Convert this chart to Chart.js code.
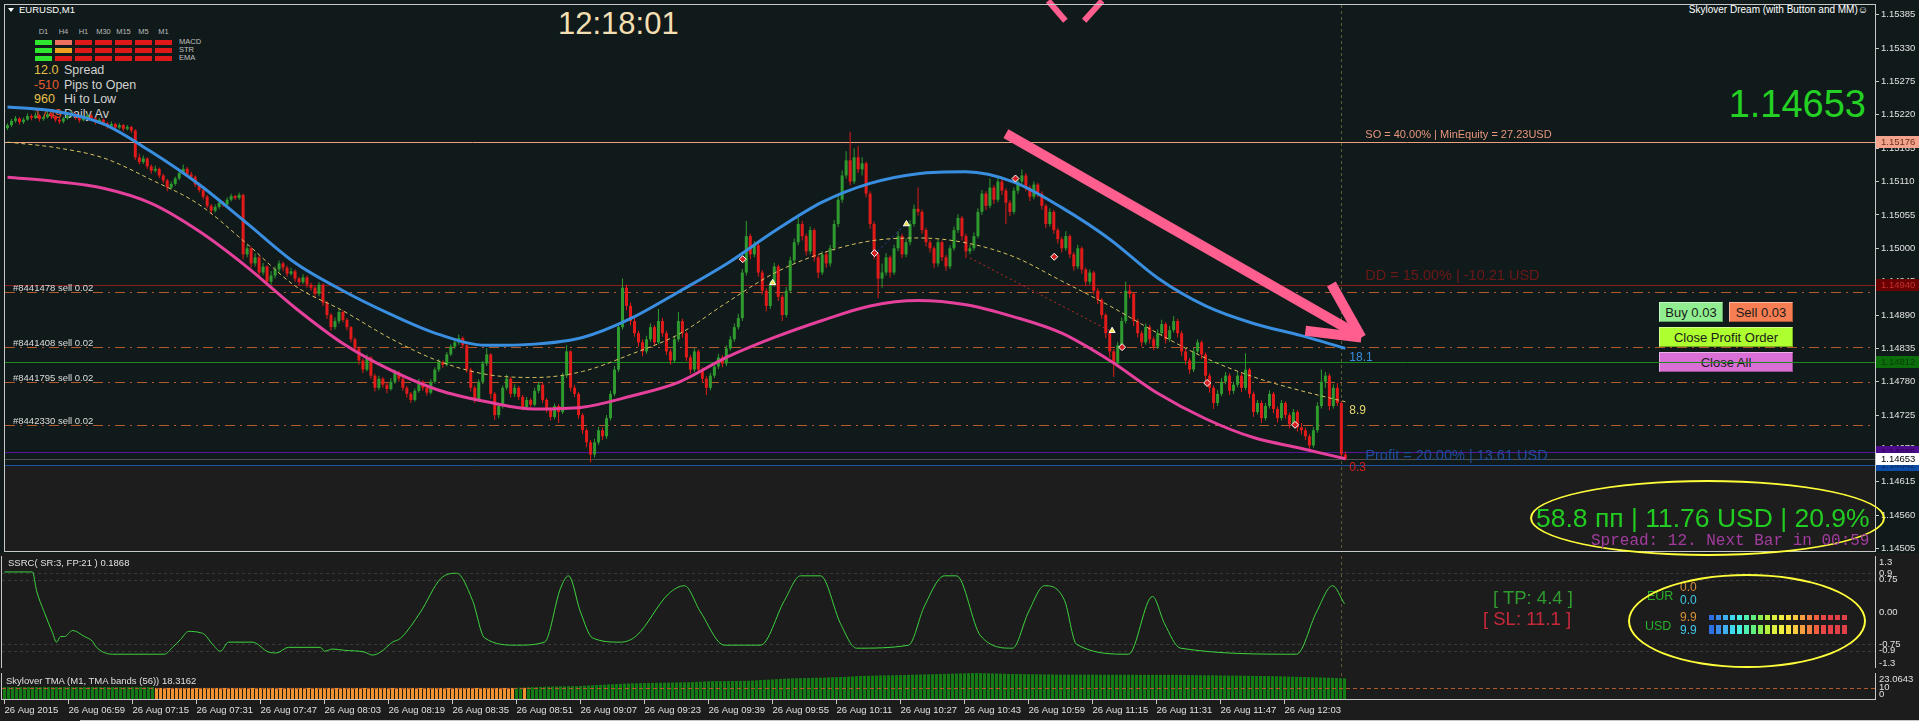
<!DOCTYPE html>
<html lang="en">
<head>
<meta charset="UTF-8">
<title>EURUSD,M1</title>
<script src="https://cdn.jsdelivr.net/npm/chart.js"></script>
<style>
  html, body { margin: 0; padding: 0; }
  body { width: 1919px; height: 721px; background: #1c1c1c; position: relative; overflow: hidden;
         font-family: "Liberation Sans", Arial, sans-serif; color: #e0e0e0; }
  .a { position: absolute; white-space: nowrap; }
  #mainBg { left: 0; top: 0; width: 1919px; height: 553px; background: #101a1a; }
  canvas { position: absolute; left: 0; z-index: 1; }
  .under { z-index: 0; }
  .over { z-index: 3; }
  .btn { position: absolute; height: 20px; line-height: 19px; text-align: center; font-size: 13px; color: #1a1a1a;
         box-sizing: border-box; border: 1px solid rgba(255,255,255,0.45); border-right-color: rgba(0,0,0,0.3);
         border-bottom-color: rgba(0,0,0,0.3); z-index: 0; }
  .ell { position: absolute; border: 2px solid #ffff3a; border-radius: 50%; box-sizing: border-box; z-index: 3; }
</style>
</head>
<body>
<div class="a" id="mainBg"></div>

<!-- chart window header -->
<div class="a under" style="left:8px;top:8px;width:0;height:0;border-left:3px solid transparent;border-right:3px solid transparent;border-top:4px solid #fff"></div>
<div class="a under" style="left:19px;top:4px;font-size:9.5px;line-height:12px;color:#fff">EURUSD,M1</div>
<div id="tfPanel"></div>
<div class="a under" style="left:558px;top:6px;width:120px;text-align:center;font-size:31px;line-height:36px;color:#f3dfb2">12:18:01</div>
<div class="a under" style="right:51px;top:4px;font-size:10px;line-height:12px;color:#fff">Skylover Dream (with Button and MM)&#9786;</div>
<div class="a under" style="right:53px;top:82px;font-size:38px;line-height:44px;color:#24d024">1.14653</div>

<div class="btn" style="left:1659px;top:302px;width:64px;background:#90ee90">Buy 0.03</div>
<div class="btn" style="left:1729px;top:302px;width:64px;background:#f67e52">Sell 0.03</div>
<div class="btn" style="left:1659px;top:327px;width:134px;background:#adff2f">Close Profit Order</div>
<div class="btn" style="left:1659px;top:352px;width:134px;background:#da70d6">Close All</div>

<canvas id="mainChart" width="1919" height="556" style="top:0"></canvas>
<canvas id="ssrcChart" width="1919" height="112" style="top:556px"></canvas>
<canvas id="tmaChart" width="1919" height="48" style="top:673px"></canvas>

<div class="ell" style="left:1530px;top:480px;width:355px;height:76px"></div>
<div class="a over" style="left:1536px;top:503px;font-size:26.5px;line-height:30px;color:#22cc22">58.8 пп | 11.76 USD | 20.9%</div>
<div class="a over" style="left:1591px;top:533px;font-family:'Liberation Mono',monospace;font-size:16px;line-height:16px;color:#a23c9e">Spread: 12. Next Bar in 00:59</div>

<div class="a over" style="left:8px;top:557px;font-size:9.5px;line-height:12px;color:#e0e0e0">SSRC( SR:3, FP:21 ) 0.1868</div>
<div class="a over" style="left:6px;top:675px;font-size:9.5px;line-height:12px;color:#e0e0e0">Skylover TMA (M1, TMA bands (56)) 18.3162</div>
<div class="a over" style="left:1493px;top:587px;font-size:18.5px;line-height:22px;color:#2f9a2f">[ TP: 4.4 ]</div>
<div class="a over" style="left:1483px;top:608px;font-size:18.5px;line-height:22px;color:#c8283c">[ SL: 11.1 ]</div>
<div id="strengthPanel"></div>
<div class="ell" style="left:1628px;top:574px;width:238px;height:94px"></div>
<div class="a" style="left:80px;top:720px;width:1839px;height:1px;background:#c8c8c8"></div>

<script>
// ---- data ----
const timeLabels = ['26 Aug 2015', '26 Aug 06:59', '26 Aug 07:15', '26 Aug 07:31', '26 Aug 07:47', '26 Aug 08:03',
  '26 Aug 08:19', '26 Aug 08:35', '26 Aug 08:51', '26 Aug 09:07', '26 Aug 09:23', '26 Aug 09:39', '26 Aug 09:55',
  '26 Aug 10:11', '26 Aug 10:27', '26 Aug 10:43', '26 Aug 10:59', '26 Aug 11:15', '26 Aug 11:31', '26 Aug 11:47',
  '26 Aug 12:03'];
const barsPerLabel = 16;

const opens = [
  1.15198,1.15203,1.15210,1.15214,1.15208,1.15212,1.15218,1.15215,1.15219,1.15213,1.15216,1.15221,
  1.15217,1.15212,1.15209,1.15214,1.15218,1.15222,1.15216,1.15211,1.15215,1.15219,1.15214,1.15208,
  1.15212,1.15206,1.15201,1.15205,1.15199,1.15203,1.15197,1.15200,1.15194,1.15150,1.15142,1.15148,
  1.15135,1.15128,1.15131,1.15120,1.15112,1.15100,1.15106,1.15115,1.15124,1.15131,1.15122,1.15118,
  1.15105,1.15096,1.15085,1.15070,1.15062,1.15068,1.15075,1.15072,1.15080,1.15086,1.15083,1.15088,
  1.14990,1.15000,1.14975,1.14985,1.14960,1.14970,1.14945,1.14955,1.14965,1.14975,1.14968,1.14958,
  1.14962,1.14950,1.14944,1.14952,1.14940,1.14935,1.14925,1.14940,1.14910,1.14890,1.14870,1.14880,
  1.14895,1.14882,1.14870,1.14850,1.14835,1.14815,1.14800,1.14820,1.14790,1.14770,1.14785,1.14775,
  1.14768,1.14780,1.14795,1.14785,1.14770,1.14760,1.14750,1.14765,1.14780,1.14770,1.14762,1.14780,
  1.14800,1.14812,1.14808,1.14825,1.14838,1.14845,1.14852,1.14840,1.14800,1.14770,1.14750,1.14780,
  1.14810,1.14825,1.14760,1.14725,1.14740,1.14770,1.14785,1.14760,1.14770,1.14755,1.14738,1.14750,
  1.14742,1.14765,1.14775,1.14750,1.14735,1.14722,1.14740,1.14730,1.14790,1.14830,1.14770,1.14760,
  1.14725,1.14700,1.14680,1.14660,1.14680,1.14700,1.14690,1.14720,1.14760,1.14800,1.14870,1.14935,
  1.14905,1.14880,1.14860,1.14845,1.14830,1.14850,1.14870,1.14845,1.14880,1.14860,1.14830,1.14815,
  1.14850,1.14880,1.14860,1.14820,1.14800,1.14830,1.14800,1.14785,1.14770,1.14790,1.14805,1.14820,
  1.14810,1.14835,1.14850,1.14870,1.14885,1.14960,1.15020,1.14990,1.15005,1.14960,1.14930,1.14905,
  1.14940,1.14970,1.14920,1.14890,1.14930,1.14980,1.15010,1.15040,1.15020,1.14995,1.15030,1.14985,
  1.14960,1.14990,1.14975,1.15000,1.15040,1.15080,1.15120,1.15145,1.15110,1.15150,1.15130,1.15140,
  1.15090,1.15040,1.14990,1.14950,1.14960,1.14985,1.14960,1.15000,1.15020,1.14990,1.15010,1.15040,
  1.15065,1.15060,1.15030,1.15010,1.15000,1.14975,1.15010,1.14985,1.14970,1.15000,1.15030,1.15050,
  1.15020,1.14995,1.15000,1.15020,1.15060,1.15090,1.15070,1.15100,1.15080,1.15110,1.15095,1.15075,
  1.15060,1.15095,1.15110,1.15120,1.15100,1.15085,1.15105,1.15090,1.15070,1.15040,1.15060,1.15030,
  1.15015,1.15000,1.15020,1.14990,1.14970,1.15000,1.14965,1.14945,1.14960,1.14930,1.14915,1.14890,
  1.14860,1.14830,1.14810,1.14840,1.14880,1.14930,1.14925,1.14880,1.14860,1.14845,1.14870,1.14850,
  1.14838,1.14860,1.14875,1.14850,1.14865,1.14880,1.14860,1.14830,1.14815,1.14800,1.14830,1.14845,
  1.14825,1.14790,1.14770,1.14745,1.14760,1.14780,1.14790,1.14765,1.14775,1.14790,1.14770,1.14800,
  1.14760,1.14730,1.14745,1.14720,1.14740,1.14760,1.14735,1.14720,1.14745,1.14725,1.14710,1.14730,
  1.14705,1.14700,1.14690,1.14675,1.14700,1.14740,1.14780,1.14790,1.14740,1.14770,1.14745,1.14660];

const highs = [
  1.15206,1.15213,1.15218,1.15216,1.15215,1.15222,1.15221,1.15224,1.15221,1.15219,1.15226,1.15223,
  1.15219,1.15215,1.15217,1.15222,1.15226,1.15224,1.15218,1.15219,1.15223,1.15221,1.15216,1.15215,
  1.15214,1.15208,1.15209,1.15207,1.15206,1.15205,1.15203,1.15202,1.15196,1.15156,1.15153,1.15150,
  1.15138,1.15136,1.15133,1.15123,1.15114,1.15110,1.15118,1.15128,1.15138,1.15134,1.15126,1.15120,
  1.15108,1.15099,1.15088,1.15073,1.15072,1.15079,1.15078,1.15084,1.15090,1.15088,1.15092,1.15090,
  1.15006,1.15003,1.14992,1.14988,1.14976,1.14972,1.14962,1.14970,1.14980,1.14978,1.14971,1.14968,
  1.14965,1.14953,1.14957,1.14955,1.14943,1.14938,1.14944,1.14942,1.14913,1.14893,1.14886,1.14899,
  1.14898,1.14885,1.14872,1.14853,1.14838,1.14818,1.14825,1.14822,1.14793,1.14790,1.14788,1.14779,
  1.14786,1.14800,1.14798,1.14788,1.14773,1.14763,1.14769,1.14785,1.14783,1.14774,1.14784,1.14804,
  1.14817,1.14815,1.14829,1.14842,1.14850,1.14858,1.14855,1.14842,1.14803,1.14774,1.14784,1.14814,
  1.14835,1.14827,1.14763,1.14745,1.14774,1.14792,1.14788,1.14776,1.14773,1.14758,1.14755,1.14753,
  1.14770,1.14780,1.14778,1.14753,1.14738,1.14744,1.14743,1.14795,1.14840,1.14832,1.14775,1.14763,
  1.14728,1.14703,1.14684,1.14686,1.14706,1.14705,1.14725,1.14765,1.14806,1.14876,1.14950,1.14940,
  1.14910,1.14885,1.14864,1.14850,1.14856,1.14876,1.14873,1.14900,1.14885,1.14864,1.14834,1.14855,
  1.14895,1.14884,1.14863,1.14824,1.14835,1.14833,1.14804,1.14789,1.14795,1.14810,1.14826,1.14824,
  1.14840,1.14856,1.14876,1.14892,1.14966,1.15045,1.15024,1.15012,1.15008,1.14964,1.14934,1.14946,
  1.14976,1.14973,1.14924,1.14936,1.14986,1.15016,1.15050,1.15045,1.15024,1.15036,1.15033,1.14988,
  1.14995,1.14994,1.15006,1.15046,1.15086,1.15128,1.15160,1.15192,1.15165,1.15168,1.15150,1.15143,
  1.15094,1.15044,1.14994,1.14975,1.14992,1.14988,1.15006,1.15028,1.15024,1.15016,1.15046,1.15072,
  1.15100,1.15064,1.15034,1.15014,1.15003,1.15015,1.15013,1.14989,1.15005,1.15036,1.15056,1.15053,
  1.15024,1.15006,1.15026,1.15066,1.15096,1.15094,1.15115,1.15104,1.15116,1.15114,1.15099,1.15079,
  1.15100,1.15116,1.15130,1.15124,1.15104,1.15110,1.15108,1.15094,1.15073,1.15066,1.15063,1.15034,
  1.15019,1.15028,1.15023,1.14994,1.15006,1.15003,1.14968,1.14965,1.14963,1.14934,1.14918,1.14893,
  1.14864,1.14834,1.14846,1.14886,1.14945,1.14940,1.14928,1.14884,1.14864,1.14876,1.14874,1.14854,
  1.14866,1.14882,1.14878,1.14872,1.14888,1.14884,1.14864,1.14834,1.14819,1.14836,1.14850,1.14848,
  1.14828,1.14794,1.14774,1.14766,1.14786,1.14796,1.14794,1.14780,1.14796,1.14794,1.14827,1.14803,
  1.14764,1.14750,1.14749,1.14745,1.14766,1.14763,1.14739,1.14750,1.14748,1.14729,1.14735,1.14733,
  1.14712,1.14704,1.14694,1.14705,1.14746,1.14800,1.14796,1.14793,1.14776,1.14778,1.14748,1.14665];

const lows = [
  1.15195,1.15200,1.15207,1.15204,1.15205,1.15210,1.15211,1.15213,1.15209,1.15210,1.15214,1.15213,
  1.15208,1.15205,1.15206,1.15212,1.15216,1.15212,1.15207,1.15209,1.15213,1.15210,1.15204,1.15205,
  1.15202,1.15197,1.15198,1.15195,1.15196,1.15193,1.15194,1.15190,1.15146,1.15138,1.15139,1.15131,
  1.15123,1.15125,1.15116,1.15107,1.15094,1.15097,1.15103,1.15112,1.15121,1.15118,1.15113,1.15101,
  1.15092,1.15081,1.15066,1.15056,1.15059,1.15065,1.15068,1.15070,1.15077,1.15079,1.15080,1.14982,
  1.14985,1.14968,1.14970,1.14952,1.14955,1.14938,1.14940,1.14950,1.14960,1.14962,1.14953,1.14955,
  1.14945,1.14939,1.14941,1.14935,1.14930,1.14920,1.14921,1.14905,1.14884,1.14864,1.14866,1.14876,
  1.14878,1.14865,1.14845,1.14830,1.14808,1.14794,1.14797,1.14785,1.14764,1.14766,1.14770,1.14761,
  1.14765,1.14777,1.14780,1.14765,1.14754,1.14745,1.14747,1.14762,1.14765,1.14757,1.14759,1.14777,
  1.14796,1.14803,1.14805,1.14822,1.14834,1.14841,1.14835,1.14795,1.14764,1.14745,1.14747,1.14776,
  1.14806,1.14752,1.14717,1.14720,1.14736,1.14766,1.14754,1.14755,1.14750,1.14733,1.14734,1.14737,
  1.14739,1.14761,1.14745,1.14729,1.14716,1.14718,1.14712,1.14727,1.14786,1.14764,1.14755,1.14719,
  1.14694,1.14672,1.14647,1.14655,1.14676,1.14684,1.14686,1.14716,1.14756,1.14796,1.14866,1.14898,
  1.14873,1.14854,1.14838,1.14822,1.14826,1.14846,1.14839,1.14842,1.14854,1.14824,1.14808,1.14811,
  1.14846,1.14853,1.14814,1.14793,1.14796,1.14794,1.14778,1.14758,1.14766,1.14786,1.14801,1.14804,
  1.14806,1.14831,1.14846,1.14866,1.14880,1.14955,1.14982,1.14985,1.14953,1.14924,1.14896,1.14900,
  1.14936,1.14913,1.14880,1.14886,1.14926,1.14975,1.15005,1.15013,1.14988,1.14990,1.14978,1.14951,
  1.14956,1.14968,1.14970,1.14996,1.15035,1.15075,1.15115,1.15104,1.15106,1.15124,1.15120,1.15084,
  1.15032,1.14982,1.14918,1.14935,1.14955,1.14952,1.14956,1.14995,1.14984,1.14985,1.15005,1.15036,
  1.15054,1.15024,1.15003,1.14993,1.14967,1.14970,1.14979,1.14963,1.14966,1.14996,1.15025,1.15013,
  1.14984,1.14990,1.14996,1.15016,1.15055,1.15063,1.15066,1.15073,1.15076,1.15088,1.15040,1.15053,
  1.15056,1.15090,1.15106,1.15094,1.15078,1.15081,1.15084,1.15064,1.15033,1.15036,1.15024,1.15008,
  1.14993,1.14996,1.14984,1.14963,1.14966,1.14958,1.14938,1.14940,1.14924,1.14908,1.14884,1.14852,
  1.14820,1.14788,1.14806,1.14836,1.14876,1.14918,1.14872,1.14853,1.14838,1.14841,1.14843,1.14832,
  1.14834,1.14856,1.14843,1.14846,1.14861,1.14853,1.14823,1.14808,1.14793,1.14796,1.14826,1.14818,
  1.14782,1.14762,1.14735,1.14740,1.14756,1.14776,1.14758,1.14760,1.14771,1.14763,1.14766,1.14753,
  1.14722,1.14726,1.14712,1.14716,1.14736,1.14728,1.14713,1.14716,1.14719,1.14703,1.14706,1.14698,
  1.14693,1.14684,1.14666,1.14671,1.14696,1.14736,1.14770,1.14733,1.14736,1.14740,1.14655,1.14650];

const closes = [
  1.15203,1.15210,1.15214,1.15208,1.15212,1.15218,1.15215,1.15219,1.15213,1.15216,1.15221,1.15217,
  1.15212,1.15209,1.15214,1.15218,1.15222,1.15216,1.15211,1.15215,1.15219,1.15214,1.15208,1.15212,
  1.15206,1.15201,1.15205,1.15199,1.15203,1.15197,1.15200,1.15194,1.15150,1.15142,1.15148,1.15135,
  1.15128,1.15131,1.15120,1.15112,1.15100,1.15106,1.15115,1.15124,1.15131,1.15122,1.15118,1.15105,
  1.15096,1.15085,1.15070,1.15062,1.15068,1.15075,1.15072,1.15080,1.15086,1.15083,1.15088,1.14990,
  1.15000,1.14975,1.14985,1.14960,1.14970,1.14945,1.14955,1.14965,1.14975,1.14968,1.14958,1.14962,
  1.14950,1.14944,1.14952,1.14940,1.14935,1.14925,1.14940,1.14910,1.14890,1.14870,1.14880,1.14895,
  1.14882,1.14870,1.14850,1.14835,1.14815,1.14800,1.14820,1.14790,1.14770,1.14785,1.14775,1.14768,
  1.14780,1.14795,1.14785,1.14770,1.14760,1.14750,1.14765,1.14780,1.14770,1.14762,1.14780,1.14800,
  1.14812,1.14808,1.14825,1.14838,1.14845,1.14852,1.14840,1.14800,1.14770,1.14750,1.14780,1.14810,
  1.14825,1.14760,1.14725,1.14740,1.14770,1.14785,1.14760,1.14770,1.14755,1.14738,1.14750,1.14742,
  1.14765,1.14775,1.14750,1.14735,1.14722,1.14740,1.14730,1.14790,1.14830,1.14770,1.14760,1.14725,
  1.14700,1.14680,1.14660,1.14680,1.14700,1.14690,1.14720,1.14760,1.14800,1.14870,1.14935,1.14905,
  1.14880,1.14860,1.14845,1.14830,1.14850,1.14870,1.14845,1.14880,1.14860,1.14830,1.14815,1.14850,
  1.14880,1.14860,1.14820,1.14800,1.14830,1.14800,1.14785,1.14770,1.14790,1.14805,1.14820,1.14810,
  1.14835,1.14850,1.14870,1.14885,1.14960,1.15020,1.14990,1.15005,1.14960,1.14930,1.14905,1.14940,
  1.14970,1.14920,1.14890,1.14930,1.14980,1.15010,1.15040,1.15020,1.14995,1.15030,1.14985,1.14960,
  1.14990,1.14975,1.15000,1.15040,1.15080,1.15120,1.15145,1.15110,1.15150,1.15130,1.15140,1.15090,
  1.15040,1.14990,1.14950,1.14960,1.14985,1.14960,1.15000,1.15020,1.14990,1.15010,1.15040,1.15065,
  1.15060,1.15030,1.15010,1.15000,1.14975,1.15010,1.14985,1.14970,1.15000,1.15030,1.15050,1.15020,
  1.14995,1.15000,1.15020,1.15060,1.15090,1.15070,1.15100,1.15080,1.15110,1.15095,1.15075,1.15060,
  1.15095,1.15110,1.15120,1.15100,1.15085,1.15105,1.15090,1.15070,1.15040,1.15060,1.15030,1.15015,
  1.15000,1.15020,1.14990,1.14970,1.15000,1.14965,1.14945,1.14960,1.14930,1.14915,1.14890,1.14860,
  1.14830,1.14810,1.14840,1.14880,1.14930,1.14925,1.14880,1.14860,1.14845,1.14870,1.14850,1.14838,
  1.14860,1.14875,1.14850,1.14865,1.14880,1.14860,1.14830,1.14815,1.14800,1.14830,1.14845,1.14825,
  1.14790,1.14770,1.14745,1.14760,1.14780,1.14790,1.14765,1.14775,1.14790,1.14770,1.14800,1.14760,
  1.14730,1.14745,1.14720,1.14740,1.14760,1.14735,1.14720,1.14745,1.14725,1.14710,1.14730,1.14705,
  1.14700,1.14690,1.14675,1.14700,1.14740,1.14780,1.14790,1.14740,1.14770,1.14745,1.14660,1.14653];

// TMA bands, read at every 12th bar and at the last bar
const bandIdx = [0, 12, 24, 36, 48, 60, 72, 84, 96, 108, 120, 132, 144, 156, 168, 180, 192, 204, 216, 228, 240, 252, 264, 276, 288, 300, 312, 324, 335];
const upperBand = [1.15233,1.15226,1.15205,1.15159,1.15105,1.15041,1.14976,1.14930,1.14891,1.14858,1.14840,1.14842,1.14853,1.14884,1.14928,1.14974,1.15028,1.15076,1.15107,1.15123,1.15126,1.15109,1.15067,1.15015,1.14951,1.14905,1.14876,1.14856,1.14835];
const midBand = [1.15175,1.15166,1.15149,1.15113,1.15072,1.15007,1.14938,1.14897,1.14851,1.14814,1.14792,1.14787,1.14797,1.14825,1.14858,1.14910,1.14959,1.14992,1.15012,1.15017,1.15009,1.14986,1.14946,1.14905,1.14860,1.14819,1.14788,1.14765,1.14747];
const lowerBand = [1.15117,1.15110,1.15099,1.15074,1.15028,1.14969,1.14902,1.14843,1.14799,1.14766,1.14747,1.14735,1.14738,1.14756,1.14779,1.14820,1.14853,1.14881,1.14905,1.14914,1.14907,1.14887,1.14860,1.14815,1.14761,1.14719,1.14688,1.14670,1.14653];
const bandLabels = ['18.1', '8.9', '0.3'];

const priceTicks = [1.15385, 1.15330, 1.15275, 1.15220, 1.15165, 1.15110, 1.15055, 1.15000, 1.14945, 1.14890,
  1.14835, 1.14780, 1.14725, 1.14670, 1.14615, 1.14560, 1.14505];
const priceMin = 1.14501, priceMax = 1.15401;

const soLevel = 1.15176, ddLevel = 1.14940, avgPrice = 1.14812;
const askPrice = 1.14665, bidPrice = 1.14653, profitLevel = 1.14642;
const orderPrices = [1.14928, 1.14837, 1.14779, 1.14709];
const orderLabels = ['#8441478 sell 0.02', '#8441408 sell 0.02', '#8441795 sell 0.02', '#8442330 sell 0.02'];

// trade history (bar, price)
const tradeBlue = [[217, 1.14990], [225, 1.15040]];
const tradeRed = [[241, 1.14984], [276, 1.14864]];
const closeMarkBars = [184.1, 217.1, 252.4, 262.1, 279.1, 300.4, 322.4];
const closeMarkPrices = [1.14982, 1.14992, 1.15115, 1.14986, 1.14837, 1.14778, 1.14709];
const openMarkBars = [191.6, 225.1, 276.6];
const openMarkPrices = [1.14943, 1.15040, 1.14864];

// hand drawn arrows (bar, price)
const arrowShaft = [[250, 1.15189], [338, 1.14858]];
const arrowHeadA = [[325, 1.14864], [339, 1.14853]];
const arrowHeadB = [[331.5, 1.14941], [339, 1.14853]];
const topMarkA = [[260.6, 1.15408], [264.9, 1.15375]];
const topMarkB = [[269.6, 1.15375], [274.1, 1.15408]];

// SSRC oscillator
const ssrcIdx = [0,7,8,10,12,13,14,15,17,20,22,23,27,40,42,44,46,49,50,52,54,56,62,66,68,71,79,80,82,85,90,92,94,97,99,
  104,109,113,117,120,128,135,139,141,144,147,154,158,166,170,174,180,189,195,199,204,209,213,226,230,235,238,244,252,256,260,265,268,281,287,290,294,323,328,332,335];
const ssrcVal = [0.93,0.93,0.5,-0.02,-0.48,-0.7,-0.57,-0.57,-0.43,-0.57,-0.68,-0.82,-0.98,-0.98,-0.82,-0.64,-0.45,-0.48,-0.52,-0.75,
  -0.91,-0.7,-0.7,-0.93,-0.95,-0.82,-0.82,-0.91,-0.86,-0.89,-0.93,-1.0,-0.93,-0.7,-0.61,
  0.0,0.77,0.9,0.27,-0.6,-0.77,-0.7,0.55,0.84,0.0,-0.6,-0.7,-0.55,0.42,0.61,0.0,-0.77,-0.77,0.27,0.84,
  0.84,-0.27,-0.84,-0.77,0.14,0.84,0.84,-0.55,-0.84,0.0,0.61,0.27,-0.75,-0.98,0.36,-0.27,-0.84,-0.98,0.0,0.61,0.19];
const ssrcTicks = [1.3, 0.9, 0.75, 0, -0.75, -0.9, -1.3];
const ssrcTickLabels = ['1.3', '0.9', '0.75', '0.00', '-0.75', '-0.9', '-1.3'];
const ssrcLevels = [0.9, 0.75, -0.75, -0.9];

// Skylover TMA histogram
const tmaValues = [
  10.6,10.6,10.6,10.6,10.6,10.6,10.6,10.6,10.6,10.6,10.6,10.6,10.6,10.6,10.6,10.6,10.6,10.6,10.6,
  10.6,10.6,10.6,10.6,10.6,10.6,10.6,10.6,10.6,10.6,10.6,10.6,10.6,10.6,10.6,10.6,10.6,10.6,10.6,
  9.8,9.8,9.8,9.8,9.8,9.8,9.8,9.8,9.8,9.8,9.8,9.8,9.8,9.8,9.8,9.8,9.8,9.8,9.8,9.8,9.8,9.8,9.8,9.8,9.8,9.8,9.8,9.8,9.8,9.8,
  9.8,9.8,9.8,9.8,9.8,9.8,9.8,9.8,9.8,9.8,9.8,9.8,9.8,9.8,9.8,9.8,9.8,9.8,9.8,9.8,9.8,9.8,9.8,9.8,9.8,9.8,9.8,9.8,9.8,9.8,
  9.8,9.8,9.8,9.8,9.8,9.8,9.8,9.8,9.8,9.8,9.8,9.8,9.8,9.8,9.8,9.8,9.8,9.8,9.8,9.8,9.8,9.8,9.8,9.8,9.8,9.8,9.8,9.8,9.8,9.8,
  10.0,10.1,9.9,
  10.4,10.5,10.6,10.7,10.8,10.9,11.0,11.1,11.2,11.2,11.3,11.4,11.4,
  11.6,11.8,12.0,12.2,12.4,12.6,12.8,13.0,13.1,13.3,13.4,13.6,13.8,13.9,14.0,14.1,14.2,14.3,
  14.3,14.4,14.4,14.5,14.6,14.6,14.7,14.8,14.8,14.9,15.0,15.2,15.4,15.6,15.8,15.9,
  15.9,15.9,15.9,16.0,16.0,16.0,16.1,16.1,16.2,16.4,16.6,16.8,17.0,17.2,17.4,17.6,17.8,18.0,18.2,18.3,
  18.4,18.5,18.6,18.7,18.8,18.9,18.9,19.0,19.2,19.3,19.4,19.5,19.6,19.8,20.0,20.2,20.4,20.5,20.6,20.7,20.8,20.9,21.0,21.0,21.1,21.1,21.2,21.3,
  21.4,21.5,21.6,21.7,21.8,21.9,22.0,22.1,22.2,22.3,22.4,22.5,22.6,22.7,22.8,22.9,23.0,23.0643,23.0,22.9,
  22.8,22.7,22.6,22.5,22.4,22.3,22.2,22.2,22.1,22.1,22.0,22.0,21.9,21.9,21.8,21.8,21.7,
  21.6,21.6,21.6,21.6,21.6,21.6,21.6,21.6,21.6,21.6,21.5,21.5,21.5,21.5,21.5,21.5,21.5,21.5,21.5,21.5,
  21.4,21.4,21.4,21.4,21.4,21.4,21.4,21.4,21.4,21.4,21.4,
  21.3,21.3,21.2,21.2,21.2,21.1,21.1,21.0,21.0,21.0,20.9,20.9,20.8,20.8,20.8,20.7,20.7,20.6,
  20.5,20.5,20.4,20.4,20.3,20.3,20.2,20.1,20.0,19.9,19.8,19.7,19.6,19.5,
  19.4,19.3,19.2,19.1,19.0,18.9,18.8,18.6,18.5,18.3162];
const tmaDownRanges = [[38, 127], [130, 130]];
const tmaTicks = [23.0643, 10, 0];
const tmaTickLabels = ['23.0643', '10', '0'];
const tmaLevel = 10;

// top left signal table
const tfNames = ['D1', 'H4', 'H1', 'M30', 'M15', 'M5', 'M1'];
const signalNames = ['MACD', 'STR', 'EMA'];
const signalStates = [
  ['up', 'weak', 'dn', 'dn', 'dn', 'dn', 'dn'],
  ['up', 'mid', 'dn', 'dn', 'dn', 'dn', 'dn'],
  ['up', 'dn', 'dn', 'dn', 'dn', 'dn', 'dn']];
const statValues = ['12.0', '-510', '960', '1749'];
const statNames = ['Spread', 'Pips to Open', 'Hi to Low', 'Daily Av'];

// currency strength
const strengthNames = ['EUR', 'USD'];
const strengthValues = [['0.0', '0.0'], ['9.9', '9.9']];
const strengthColors = ['#2f6fe6', '#3a8ae8', '#40b0f0', '#40d8f0', '#48f0e0', '#50f0b0', '#60f080', '#88f050', '#b8f040',
  '#e0f040', '#f0f040', '#f8e040', '#f8c840', '#f8a040', '#f08040', '#f06040', '#e84848', '#e84048', '#e04048', '#e04048'];

// ---- html panels ----
const sigColor = { up: '#2ee62e', weak: '#f07060', mid: '#f0a020', dn: '#e01818' };
let html = '';
tfNames.forEach((t, k) => {
  html += `<div class="a under" style="left:${35 + 20 * k}px;top:27px;width:17px;text-align:center;font-size:7.5px;line-height:10px;color:#bbb">${t}</div>`;
});
signalStates.forEach((row, r) => {
  row.forEach((s, k) => {
    html += `<div class="a under" style="left:${35 + 20 * k}px;top:${40 + 8 * r}px;width:17px;height:5px;background:${sigColor[s]}"></div>`;
  });
  html += `<div class="a under" style="left:179px;top:${37 + 8 * r}px;font-size:7.5px;line-height:10px;color:#c0c0c0">${signalNames[r]}</div>`;
});
const statColors = ['#e8c048', '#e05a30', '#e8c048', '#e05a30'];
statValues.forEach((v, r) => {
  const top = 63 + [0, 15, 29, 44][r];
  html += `<div class="a under" style="left:34px;top:${top}px;font-size:12.5px;line-height:14px;color:${statColors[r]}">${v}</div>`;
  html += `<div class="a under" style="left:64px;top:${top}px;font-size:12.5px;line-height:14px;color:#d0d0d0">${statNames[r]}</div>`;
});
document.getElementById('tfPanel').innerHTML = html;

html = '';
strengthNames.forEach((n, r) => {
  html += `<div class="a over" style="left:${1647 - 2 * r}px;top:${589 + 30 * r}px;font-size:12.5px;line-height:14px;color:#2ab02a">${n}</div>`;
  html += `<div class="a over" style="left:1680px;top:${580 + 30 * r}px;font-size:12px;line-height:14px;color:#d8903c">${strengthValues[r][0]}</div>`;
  html += `<div class="a over" style="left:1680px;top:${593 + 30 * r}px;font-size:12px;line-height:14px;color:#40c8e8">${strengthValues[r][1]}</div>`;
});
strengthColors.forEach((c, k) => {
  html += `<div class="a over" style="left:${1709 + 7 * k}px;top:615px;width:5px;height:5px;background:${c}"></div>`;
  html += `<div class="a over" style="left:${1709 + 7 * k}px;top:625px;width:5px;height:9px;background:${c}"></div>`;
});
document.getElementById('strengthPanel').innerHTML = html;

// ---- charts ----
Chart.defaults.font.family = '"Liberation Sans", Arial, sans-serif';
const xMin = -0.625, xMax = 467.625;
const lastBar = closes.length - 1;
const upColor = '#2f9a2f', downColor = '#e21a1a';
const barColors = closes.map((c, i) => c >= opens[i] ? upColor : downColor);
const pts = (idx, vals) => idx.map((x, k) => ({ x: x, y: vals[k] }));
const pairPts = arr => arr.map(p => ({ x: p[0], y: p[1] }));

function fixWidth(s) { s.width = 44; s.paddingTop = 0; s.paddingBottom = 0; }
function fixRange(s) { s.min = xMin; s.max = xMax; }
const timeAxisBase = { type: 'linear', min: xMin, max: xMax, bounds: 'data', offset: false, afterDataLimits: fixRange };

function hLine(ctx, a, yPix, color, dash) {
  ctx.save();
  ctx.strokeStyle = color; ctx.lineWidth = 1; ctx.setLineDash(dash || []);
  ctx.beginPath(); ctx.moveTo(a.left, Math.round(yPix) + 0.5); ctx.lineTo(a.right, Math.round(yPix) + 0.5); ctx.stroke();
  ctx.restore();
}
function frame(ctx, a) {
  ctx.save(); ctx.strokeStyle = '#c8c8c8'; ctx.lineWidth = 1;
  ctx.strokeRect(a.left - 0.5, a.top - 0.5, a.right - a.left + 1, a.bottom - a.top + 1);
  ctx.restore();
}
function nowLine(chart) {
  const { ctx, chartArea: a, scales: { x } } = chart;
  const px = Math.round(x.getPixelForValue(lastBar)) - 3.5;
  ctx.save(); ctx.strokeStyle = '#5c5c34'; ctx.lineWidth = 1; ctx.setLineDash([3, 3]);
  ctx.beginPath(); ctx.moveTo(px, a.top); ctx.lineTo(px, a.bottom); ctx.stroke(); ctx.restore();
}

const mainDecor = {
  id: 'mainDecor',
  beforeDatasetsDraw(chart) {
    const { ctx, chartArea: a, scales: { x, y } } = chart;
    const yb = y.getPixelForValue(profitLevel);
    ctx.save();
    ctx.fillStyle = '#1d1d1d';
    ctx.fillRect(a.left, yb, a.right - a.left, a.bottom - yb);
    ctx.restore();
    nowLine(chart);
    hLine(ctx, a, y.getPixelForValue(soLevel), '#f0a080');
    hLine(ctx, a, y.getPixelForValue(ddLevel), '#8a1c1c');
    orderPrices.forEach(p => hLine(ctx, a, y.getPixelForValue(p), '#b25a2c', [10, 5, 2, 5]));
    hLine(ctx, a, y.getPixelForValue(avgPrice), '#1e8a1e');
    hLine(ctx, a, y.getPixelForValue(askPrice), '#55179a');
    hLine(ctx, a, y.getPixelForValue(bidPrice), '#505050');
    hLine(ctx, a, y.getPixelForValue(profitLevel), '#2050a0');

    ctx.save();
    ctx.textBaseline = 'bottom';
    const lx = x.getPixelForValue(closes.length + 4);
    ctx.font = '11px "Liberation Sans"'; ctx.fillStyle = '#e8967c';
    ctx.fillText('SO = 40.00% | MinEquity = 27.23USD', lx, y.getPixelForValue(soLevel) - 1);
    ctx.font = '14.5px "Liberation Sans"'; ctx.fillStyle = '#6e1818';
    ctx.fillText('DD = 15.00% | -10.21 USD', lx, y.getPixelForValue(ddLevel) - 1);
    ctx.fillStyle = '#1f4f9c';
    ctx.fillText('Profit = 20.00% | 13.61 USD', lx, y.getPixelForValue(profitLevel) - 2);
    ctx.font = '9.5px "Liberation Sans"'; ctx.fillStyle = '#dcdcdc';
    orderPrices.forEach((p, k) => ctx.fillText(orderLabels[k], a.left + 8, y.getPixelForValue(p) + 1));
    ctx.restore();
  },
  afterDatasetsDraw(chart) {
    const { ctx, scales: { x, y } } = chart;
    const ex = x.getPixelForValue(lastBar) + 4;
    const ends = [upperBand, midBand, lowerBand].map(b => y.getPixelForValue(b[b.length - 1]) + 9);
    const cols = ['#3a8ee0', '#e8d870', '#d42020'];
    ctx.save();
    ctx.font = '12px "Liberation Sans"'; ctx.textBaseline = 'middle';
    bandLabels.forEach((t, k) => { ctx.fillStyle = cols[k]; ctx.fillText(t, ex, ends[k]); });
    ctx.restore();
  },
  afterDraw(chart) {
    const { ctx, chartArea: a, scales: { y } } = chart;
    frame(ctx, a);
    const boxes = [
      [soLevel, '#f4a48c', '#6a3020'], [ddLevel, '#6b0000', '#c83030'], [avgPrice, '#0b6e0b', '#0a3a0a'],
      [askPrice, '#4b0b8a', '#2a0050'], [profitLevel, '#0d4ca6', '#0a2a60'], [bidPrice, '#ffffff', '#000000']];
    ctx.save();
    ctx.font = '9.5px "Liberation Sans"'; ctx.textBaseline = 'middle';
    boxes.forEach(([v, bg, fg]) => {
      const py = Math.round(y.getPixelForValue(v));
      ctx.fillStyle = bg; ctx.fillRect(a.right + 1, py - 6, 43, 12);
      ctx.fillStyle = fg; ctx.fillText(v.toFixed(5), a.right + 6, py + 0.5);
    });
    ctx.restore();
  }
};

const bandLine = (data, color, width, dash) => ({
  type: 'line', data: data, borderColor: color, borderWidth: width, borderDash: dash || [],
  pointRadius: 0, cubicInterpolationMode: 'monotone', fill: false
});
const strokeLine = (data, color, width, dash) => ({
  type: 'line', data: data, borderColor: color, borderWidth: width, borderDash: dash || [],
  pointRadius: 0, tension: 0, fill: false, clip: false, borderCapStyle: 'butt'
});
const markers = (bars, prices, style, fill, radius) => ({
  type: 'scatter', data: pts(bars, prices), pointStyle: style, pointRadius: radius,
  pointBackgroundColor: fill, pointBorderColor: '#ffffff', pointBorderWidth: 1
});

new Chart(document.getElementById('mainChart'), {
  data: {
    datasets: [
      strokeLine(pairPts(arrowShaft), '#ff5e8e', 10),
      strokeLine(pairPts(arrowHeadA), '#ff5e8e', 10),
      strokeLine(pairPts(arrowHeadB), '#ff5e8e', 10),
      strokeLine(pairPts(topMarkA), '#ff5e8e', 6),
      strokeLine(pairPts(topMarkB), '#ff5e8e', 6),
      markers(closeMarkBars, closeMarkPrices, 'rectRot', '#d42020', 3.5),
      markers(openMarkBars, openMarkPrices, 'triangle', '#f2e040', 3.5),
      bandLine(pts(bandIdx, upperBand), '#3a8ee0', 3),
      bandLine(pts(bandIdx, midBand), '#d8c062', 1, [4, 3]),
      bandLine(pts(bandIdx, lowerBand), '#e4409c', 3),
      strokeLine(pairPts(tradeBlue), '#3040c0', 1, [2, 3]),
      strokeLine(pairPts(tradeRed), '#c02828', 1, [2, 3]),
      { type: 'bar', data: closes.map((c, i) => ({ x: i, y: [opens[i], c] })), backgroundColor: barColors,
        barThickness: 3, grouped: false, inflateAmount: 0, borderWidth: 0 },
      { type: 'bar', data: closes.map((c, i) => ({ x: i, y: [lows[i], highs[i]] })), backgroundColor: barColors,
        barThickness: 1, grouped: false, inflateAmount: 0, borderWidth: 0 }
    ]
  },
  options: {
    responsive: false, animation: false, events: [], devicePixelRatio: 1,
    layout: { padding: { left: 2, top: 2, right: 0, bottom: 4 } },
    plugins: { legend: { display: false }, tooltip: { enabled: false } },
    scales: {
      x: Object.assign({}, timeAxisBase, { display: false }),
      y: {
        position: 'right', min: priceMin, max: priceMax, afterFit: fixWidth,
        afterBuildTicks: s => { s.ticks = priceTicks.map(v => ({ value: v })); },
        ticks: { color: '#e0e0e0', font: { size: 9.5 }, padding: 2, callback: v => v.toFixed(5) },
        grid: { drawOnChartArea: false, color: '#c8c8c8', tickLength: 4 },
        border: { color: '#c8c8c8' }
      }
    }
  },
  plugins: [mainDecor]
});

function panelDecor(ticks, labels, levels, levelColor, levelDash) {
  return {
    levels(chart) {
      const { ctx, chartArea: a, scales: { y } } = chart;
      levels.forEach(v => hLine(ctx, a, y.getPixelForValue(v), levelColor, levelDash));
    },
    axis(chart) {
      const { ctx, chartArea: a, scales: { y } } = chart;
      frame(ctx, a);
      ctx.save();
      ctx.font = '9.5px "Liberation Sans"'; ctx.fillStyle = '#e0e0e0'; ctx.textBaseline = 'middle';
      ticks.forEach((v, k) => {
        const py = Math.min(Math.max(y.getPixelForValue(v), a.top + 6), a.bottom - 5);
        ctx.fillText(labels[k], a.right + 4, py);
      });
      ctx.restore();
    }
  };
}

const ssrcDeco = panelDecor(ssrcTicks, ssrcTickLabels, ssrcLevels, '#3a3a3a', [3, 3]);
new Chart(document.getElementById('ssrcChart'), {
  type: 'line',
  data: { datasets: [{ data: pts(ssrcIdx, ssrcVal), borderColor: '#3ed43e', borderWidth: 1, pointRadius: 0,
    cubicInterpolationMode: 'monotone', fill: false }] },
  options: {
    responsive: false, animation: false, events: [], devicePixelRatio: 1,
    layout: { padding: { left: 2, top: 0, right: 0, bottom: 0 } },
    plugins: { legend: { display: false }, tooltip: { enabled: false } },
    scales: {
      x: Object.assign({}, timeAxisBase, { display: false }),
      y: { position: 'right', min: -1.3, max: 1.3, afterFit: fixWidth, ticks: { display: false },
        grid: { display: false }, border: { display: false } }
    }
  },
  plugins: [{
    id: 'ssrcDecor',
    beforeDatasetsDraw: chart => { nowLine(chart); ssrcDeco.levels(chart); },
    afterDraw: chart => ssrcDeco.axis(chart)
  }]
});

const tmaDeco = panelDecor(tmaTicks, tmaTickLabels, [tmaLevel], '#b25a2c', [4, 3]);
const tmaColors = tmaValues.map((v, i) => tmaDownRanges.some(([s, e]) => i >= s && i <= e) ? '#f0922e' : '#147a14');
new Chart(document.getElementById('tmaChart'), {
  type: 'bar',
  data: { datasets: [{ data: tmaValues.map((v, i) => ({ x: i, y: v })), backgroundColor: tmaColors,
    barThickness: 3, inflateAmount: 0, borderWidth: 0, grouped: false }] },
  options: {
    responsive: false, animation: false, events: [], devicePixelRatio: 1,
    layout: { padding: { left: 2, top: 0, right: 0, bottom: 0 } },
    plugins: { legend: { display: false }, tooltip: { enabled: false } },
    scales: {
      x: Object.assign({}, timeAxisBase, {
        afterBuildTicks: s => { fixRange(s); s.ticks = timeLabels.map((t, k) => ({ value: k * barsPerLabel })); },
        afterFit: s => { s.height = 22; s.paddingLeft = 0; s.paddingRight = 0; },
        ticks: { autoSkip: false, maxRotation: 0, align: 'start', color: '#e0e0e0', font: { size: 9.5 }, padding: 1,
          callback: (v, k) => timeLabels[k] },
        grid: { drawOnChartArea: false, color: '#c8c8c8', tickLength: 5, offset: false },
        border: { color: '#c8c8c8' }
      }),
      y: { position: 'right', min: 0, max: 23.0643, afterFit: fixWidth, ticks: { display: false },
        grid: { display: false }, border: { display: false } }
    }
  },
  plugins: [{
    id: 'tmaDecor',
    beforeDatasetsDraw: chart => nowLine(chart),
    afterDatasetsDraw: chart => tmaDeco.levels(chart),
    afterDraw: chart => tmaDeco.axis(chart)
  }]
});
</script>
</body>
</html>
